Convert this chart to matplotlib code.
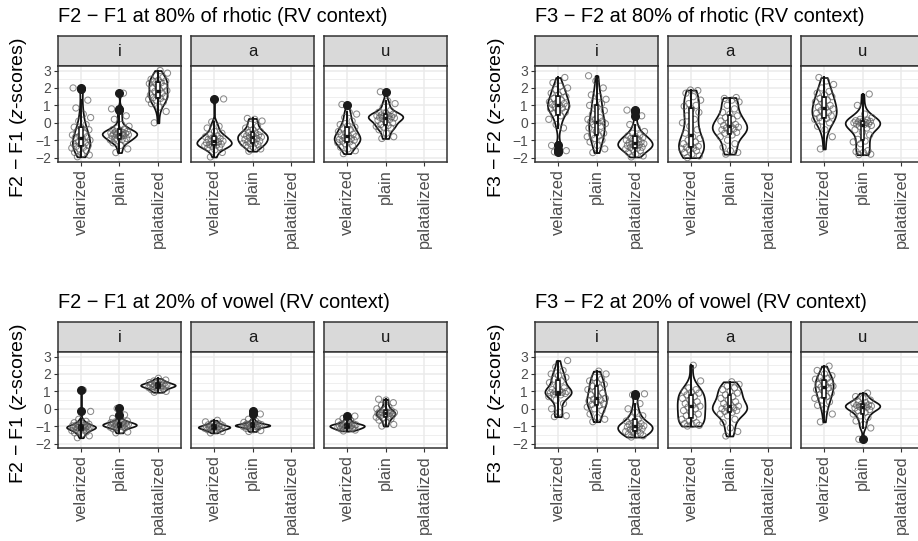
import numpy as np
import matplotlib.pyplot as plt

plt.rcParams['font.family'] = ['Liberation Sans', 'DejaVu Sans']
plt.rcParams['mathtext.fontset'] = 'custom'
plt.rcParams['mathtext.rm'] = 'Liberation Sans'
plt.rcParams['mathtext.it'] = 'Liberation Sans:italic'

consonants = ['velarized', 'plain', 'palatalized']
vowels = ['i', 'a', 'u']

# F2 - F1 at 80% of rhotic
r21_i_vel = [-1.95, -1.85, -1.8, -1.7, -1.6, -1.5, -1.45, -1.4, -1.35, -1.3, -1.25, -1.2, -1.15, -1.1, -1.0, -0.95,
             -0.85, -0.8, -0.75, -0.7, -0.6, -0.5, -0.4, -0.3, -0.25, -0.1, 0.1, 0.3, 0.5, 0.85, 1.3, 1.95, 2.0]
r21_i_pla = [-1.71, -1.5, -1.3, -1.15, -1.05, -1.0, -0.98, -0.96, -0.93, -0.9, -0.8, -0.76, -0.72, -0.7, -0.68,
             -0.66, -0.64, -0.62, -0.6, -0.58, -0.55, -0.52, -0.5, -0.45, -0.4, -0.35, -0.3, -0.2, -0.1, 0.2, 0.4,
             0.75, 0.8, 1.7]
r21_i_pal = [0.0, 0.65, 0.9, 1.1, 1.2, 1.3, 1.35, 1.4, 1.45, 1.5, 1.55, 1.6, 1.7, 1.8, 1.85, 1.9, 2.0, 2.1, 2.2,
             2.25, 2.3, 2.35, 2.4, 2.45, 2.5, 2.6, 2.7, 2.85, 3.0]
r21_a_vel = [-1.96, -1.7, -1.55, -1.45, -1.4, -1.35, -1.3, -1.28, -1.25, -1.22, -1.2, -1.15, -1.1, -1.08, -1.05, -1.0,
             -0.95, -0.9, -0.85, -0.8, -0.75, -0.7, -0.6, -0.5, -0.3, -0.2, 0.05, 1.37]
r21_a_pla = [-1.63, -1.5, -1.4, -1.3, -1.25, -1.2, -1.18, -1.15, -1.1, -1.05, -1.0, -0.95, -0.9, -0.85, -0.82, -0.8,
             -0.75, -0.7, -0.68, -0.65, -0.6, -0.55, -0.5, -0.4, -0.3, -0.2, -0.1, 0.1, 0.2, 0.25]
r21_u_vel = [-1.77, -1.6, -1.5, -1.4, -1.3, -1.2, -1.15, -1.1, -1.05, -1.0, -0.98, -0.95, -0.9, -0.85, -0.8, -0.75,
             -0.7, -0.65, -0.6, -0.5, -0.4, -0.3, -0.25, -0.2, -0.1, 0.1, 0.3, 0.5, 0.6, 1.05]
r21_u_pla = [-0.9, -0.8, -0.6, -0.4, -0.3, -0.25, -0.2, -0.15, -0.1, 0.0, 0.1, 0.15, 0.2, 0.25, 0.28, 0.3, 0.32,
             0.35, 0.38, 0.4, 0.42, 0.45, 0.5, 0.55, 0.6, 0.7, 0.9, 1.1, 1.25, 1.78]

# F3 - F2 at 80% of rhotic
r32_i_vel = [-1.67, -1.6, -1.55, -1.3, -0.3, -0.1, 0.2, 0.4, 0.55, 0.6, 0.7, 0.8, 0.85, 0.9, 0.95, 1.0, 1.05, 1.1,
             1.15, 1.2, 1.3, 1.4, 1.5, 1.6, 1.7, 1.8, 1.9, 2.0, 2.1, 2.3, 2.6]
r32_i_pla = [-1.71, -1.5, -1.3, -1.1, -1.0, -0.9, -0.8, -0.75, -0.7, -0.6, -0.5, -0.3, -0.2, -0.1, -0.05, 0.0, 0.05,
             0.1, 0.15, 0.2, 0.3, 0.5, 0.7, 0.9, 1.0, 1.1, 1.2, 1.35, 1.5, 1.6, 2.0, 2.4, 2.7]
r32_i_pal = [-1.96, -1.9, -1.8, -1.7, -1.6, -1.55, -1.5, -1.45, -1.42, -1.4, -1.35, -1.3, -1.25, -1.22, -1.2, -1.18,
             -1.15, -1.1, -1.05, -1.0, -0.95, -0.9, -0.85, -0.8, -0.75, -0.7, -0.6, -0.5, -0.3, -0.1, 0.4, 0.65, 0.73]
r32_a_vel = [-2.0, -1.9, -1.8, -1.7, -1.6, -1.55, -1.5, -1.45, -1.4, -1.35, -1.3, -1.2, -1.1, -1.0, -0.9, -0.8, -0.6,
             -0.4, -0.2, 0.0, 0.2, 0.4, 0.6, 0.8, 0.95, 1.0, 1.1, 1.3, 1.5, 1.7, 1.85, 1.88]
r32_a_pla = [-1.8, -1.7, -1.6, -1.4, -1.2, -1.0, -0.8, -0.7, -0.6, -0.55, -0.5, -0.4, -0.35, -0.3, -0.25, -0.2, -0.15,
             -0.1, 0.0, 0.1, 0.2, 0.3, 0.4, 0.5, 0.6, 0.8, 1.0, 1.2, 1.3, 1.4, 1.45]
r32_u_vel = [-1.5, -0.8, -0.4, -0.2, 0.0, 0.1, 0.2, 0.25, 0.3, 0.4, 0.5, 0.55, 0.6, 0.7, 0.8, 0.85, 0.9, 1.0, 1.1,
             1.2, 1.3, 1.4, 1.5, 1.6, 1.7, 1.8, 2.0, 2.2, 2.4, 2.6]
r32_u_pla = [-1.83, -1.8, -1.7, -1.65, -1.6, -1.2, -1.1, -1.05, -0.95, -0.7, -0.55, -0.4, -0.3, -0.2, -0.15, -0.1,
             -0.08, -0.05, -0.02, 0.0, 0.02, 0.05, 0.08, 0.1, 0.12, 0.15, 0.2, 0.3, 0.5, 1.0, 1.65]

# F2 - F1 at 20% of vowel
v21_i_vel = [-1.66, -1.55, -1.45, -1.38, -1.32, -1.28, -1.25, -1.22, -1.18, -1.15, -1.12, -1.1, -1.09, -1.08, -1.06,
             -1.05, -1.03, -1.02, -1.0, -0.98, -0.95, -0.92, -0.88, -0.85, -0.8, -0.72, -0.6, -0.15, 1.07]
v21_i_pla = [-1.38, -1.33, -1.25, -1.15, -1.1, -1.08, -1.05, -1.02, -1.0, -0.98, -0.96, -0.95, -0.93, -0.92, -0.9,
             -0.88, -0.86, -0.85, -0.82, -0.8, -0.78, -0.75, -0.7, -0.65, -0.55, -0.35, 0.02]
v21_i_pal = [0.95, 1.0, 1.05, 1.1, 1.15, 1.2, 1.22, 1.25, 1.27, 1.3, 1.32, 1.34, 1.35, 1.36, 1.38, 1.4, 1.42, 1.45,
             1.48, 1.5, 1.55, 1.6, 1.65, 1.75]
v21_a_vel = [-1.38, -1.3, -1.25, -1.2, -1.18, -1.15, -1.12, -1.1, -1.08, -1.06, -1.05, -1.04, -1.02, -1.0, -0.98,
             -0.95, -0.92, -0.88, -0.82, -0.75, -0.66]
v21_a_pla = [-1.3, -1.25, -1.2, -1.12, -1.08, -1.05, -1.02, -1.0, -0.98, -0.97, -0.96, -0.95, -0.94, -0.93, -0.91,
             -0.9, -0.88, -0.85, -0.82, -0.78, -0.72, -0.6, -0.3, -0.15]
v21_u_vel = [-1.27, -1.22, -1.18, -1.15, -1.12, -1.1, -1.08, -1.05, -1.03, -1.0, -0.99, -0.98, -0.96, -0.94, -0.92,
             -0.9, -0.88, -0.85, -0.8, -0.75, -0.65, -0.55, -0.42]
v21_u_pla = [-0.99, -0.9, -0.78, -0.65, -0.58, -0.52, -0.48, -0.42, -0.38, -0.34, -0.3, -0.28, -0.26, -0.24, -0.22,
             -0.2, -0.17, -0.12, -0.05, 0.0, 0.1, 0.2, 0.35, 0.5, 0.55]

# F3 - F2 at 20% of vowel
v32_i_vel = [-0.45, -0.4, -0.2, 0.0, 0.3, 0.5, 0.7, 0.8, 0.85, 0.88, 0.9, 0.92, 0.95, 0.98, 1.0, 1.05, 1.1, 1.2,
             1.3, 1.5, 1.6, 1.7, 1.8, 1.9, 2.0, 2.2, 2.4, 2.77]
v32_i_pla = [-0.74, -0.6, -0.5, -0.3, -0.1, 0.0, 0.1, 0.2, 0.25, 0.3, 0.4, 0.45, 0.5, 0.55, 0.6, 0.7, 0.8, 0.9,
             1.0, 1.1, 1.2, 1.3, 1.4, 1.5, 1.6, 1.7, 1.8, 2.0, 2.16]
v32_i_pal = [-1.62, -1.55, -1.5, -1.45, -1.4, -1.35, -1.3, -1.25, -1.2, -1.15, -1.1, -1.05, -1.02, -1.0, -0.98,
             -0.95, -0.9, -0.85, -0.8, -0.7, -0.6, -0.5, -0.4, -0.2, 0.0, 0.3, 0.8, 0.86]
v32_a_vel = [-0.99, -0.95, -0.9, -0.85, -0.8, -0.7, -0.6, -0.5, -0.4, -0.3, -0.2, -0.1, 0.0, 0.1, 0.15, 0.2, 0.3,
             0.4, 0.5, 0.6, 0.7, 0.8, 0.9, 0.95, 1.0, 1.1, 1.2, 1.6, 2.5]
v32_a_pla = [-1.56, -1.3, -1.1, -0.8, -0.6, -0.4, -0.3, -0.2, -0.15, -0.1, -0.05, 0.0, 0.05, 0.1, 0.15, 0.2, 0.3,
             0.4, 0.5, 0.6, 0.7, 0.8, 0.9, 1.0, 1.1, 1.2, 1.3, 1.4, 1.55]
v32_u_vel = [-0.75, -0.3, 0.0, 0.2, 0.4, 0.5, 0.6, 0.7, 0.8, 0.9, 1.0, 1.1, 1.2, 1.25, 1.3, 1.35, 1.4, 1.5, 1.6,
             1.7, 1.75, 1.8, 1.9, 2.0, 2.2, 2.45]
v32_u_pla = [-1.75, -1.1, -0.9, -0.7, -0.5, -0.4, -0.3, -0.2, -0.1, -0.05, 0.0, 0.05, 0.1, 0.12, 0.15, 0.18, 0.2,
             0.22, 0.25, 0.3, 0.35, 0.4, 0.5, 0.6, 0.7, 0.9]

panels = [
    ('F2 \u2212 F1 at 80% of rhotic (RV context)', 'F2 \u2212 F1',
     [[r21_i_vel, r21_i_pla, r21_i_pal], [r21_a_vel, r21_a_pla, []], [r21_u_vel, r21_u_pla, []]]),
    ('F3 \u2212 F2 at 80% of rhotic (RV context)', 'F3 \u2212 F2',
     [[r32_i_vel, r32_i_pla, r32_i_pal], [r32_a_vel, r32_a_pla, []], [r32_u_vel, r32_u_pla, []]]),
    ('F2 \u2212 F1 at 20% of vowel (RV context)', 'F2 \u2212 F1',
     [[v21_i_vel, v21_i_pla, v21_i_pal], [v21_a_vel, v21_a_pla, []], [v21_u_vel, v21_u_pla, []]]),
    ('F3 \u2212 F2 at 20% of vowel (RV context)', 'F3 \u2212 F2',
     [[v32_i_vel, v32_i_pla, v32_i_pal], [v32_a_vel, v32_a_pla, []], [v32_u_vel, v32_u_pla, []]]),
]

W, H = 918, 541
GREY20 = '#333333'
GREY30 = '#4D4D4D'


def px_axes(fig, x0, x1, y0, y1):
    return fig.add_axes([x0 / W, 1 - y1 / H, (x1 - x0) / W, (y1 - y0) / H])


def kde(vals, grid):
    vals = np.asarray(vals, dtype=float)
    sd = vals.std(ddof=1)
    q75, q25 = np.percentile(vals, [75, 25])
    bw = 0.9 * min(sd, (q75 - q25) / 1.34) * len(vals) ** -0.2
    z = (grid[:, None] - vals[None, :]) / bw
    return np.exp(-0.5 * z ** 2).sum(axis=1) / (len(vals) * bw * np.sqrt(2 * np.pi))


def draw_facet(ax, groups):
    # violins scaled by area: widest density in the facet gets width 0.9
    curves = []
    for k, vals in enumerate(groups):
        if len(vals) == 0:
            continue
        grid = np.linspace(min(vals), max(vals), 512)
        curves.append((k + 1, grid, kde(vals, grid)))
    dmax = max(c[2].max() for c in curves)
    for x, grid, dens in curves:
        half = dens / dmax * 0.45
        ax.fill_betweenx(grid, x - half, x + half, facecolor='white', edgecolor='#111111',
                         linewidth=1.25, zorder=2)

    for k, vals in enumerate(groups):
        if len(vals) == 0:
            continue
        n = len(vals)
        jit = ((np.arange(n) * 0.618034 + 0.31) % 1 - 0.5) * 0.5
        ax.scatter(k + 1 + jit, vals, s=20, facecolors='none', edgecolors='#5A5A5A',
                   linewidths=0.75, alpha=0.7, zorder=3)

    pos = [k + 1 for k, v in enumerate(groups) if len(v)]
    bp = ax.boxplot([v for v in groups if len(v)], positions=pos, widths=0.1, patch_artist=True,
                    showcaps=False, manage_ticks=False,
                    boxprops=dict(facecolor='white', edgecolor='#111111', linewidth=1.1),
                    medianprops=dict(color='#111111', linewidth=2.4),
                    whiskerprops=dict(color='#111111', linewidth=1.4),
                    flierprops=dict(marker='o', markerfacecolor='#1A1A1A', markeredgecolor='#1A1A1A',
                                    markersize=5.5))
    for part in bp['boxes'] + bp['medians'] + bp['whiskers'] + bp['fliers']:
        part.set_zorder(4)


fig = plt.figure(figsize=(W / 100, H / 100), dpi=100)

col_left = [58, 535]
row_top = [36, 322]
facet_w, gap, strip_h, plot_h = 123, 10, 30, 96

for p, (title, ylab, facets) in enumerate(panels):
    cx = col_left[p % 2]
    ry = row_top[p // 2]
    for j, groups in enumerate(facets):
        x0 = cx + j * (facet_w + gap)
        x1 = x0 + facet_w
        strip = px_axes(fig, x0, x1, ry, ry + strip_h)
        strip.set_facecolor('#D9D9D9')
        strip.set_xticks([])
        strip.set_yticks([])
        for s in strip.spines.values():
            s.set_color(GREY20)
            s.set_linewidth(1.1)
        strip.text(0.5, 0.5, vowels[j], ha='center', va='center', fontsize=12, color='#1A1A1A',
                   transform=strip.transAxes)

        ax = px_axes(fig, x0, x1, ry + strip_h, ry + strip_h + plot_h)
        ax.set_xlim(0.4, 3.6)
        ax.set_ylim(-2.25, 3.26)
        ax.set_yticks([-2, -1, 0, 1, 2, 3])
        ax.set_yticks([-1.5, -0.5, 0.5, 1.5, 2.5], minor=True)
        ax.set_xticks([1, 2, 3])
        ax.set_xticklabels(consonants, rotation=90, fontsize=11.8, color=GREY30)
        ax.grid(True, which='major', color='#EBEBEB', linewidth=1.1)
        ax.grid(True, which='minor', axis='y', color='#EBEBEB', linewidth=0.55)
        ax.set_axisbelow(True)
        ax.tick_params(which='major', length=3, width=0.8, color=GREY20, pad=2)
        ax.tick_params(which='minor', length=0)
        if j == 0:
            ax.set_yticklabels(['\u22122', '\u22121', '0', '1', '2', '3'], fontsize=10, color=GREY30)
        else:
            ax.tick_params(axis='y', which='major', length=0, labelleft=False)
        for s in ax.spines.values():
            s.set_color(GREY20)
            s.set_linewidth(1.1)
        draw_facet(ax, groups)

    fig.text(cx / W, 1 - (ry - 14) / H, title, fontsize=14.4, ha='left', va='baseline', color='black')
    fig.text((cx - 39) / W, 1 - (ry + 82) / H, ylab + ' ($\\mathit{z}$-scores)', rotation=90,
             fontsize=14, ha='center', va='center')

fig.savefig('out.png', dpi=100)
